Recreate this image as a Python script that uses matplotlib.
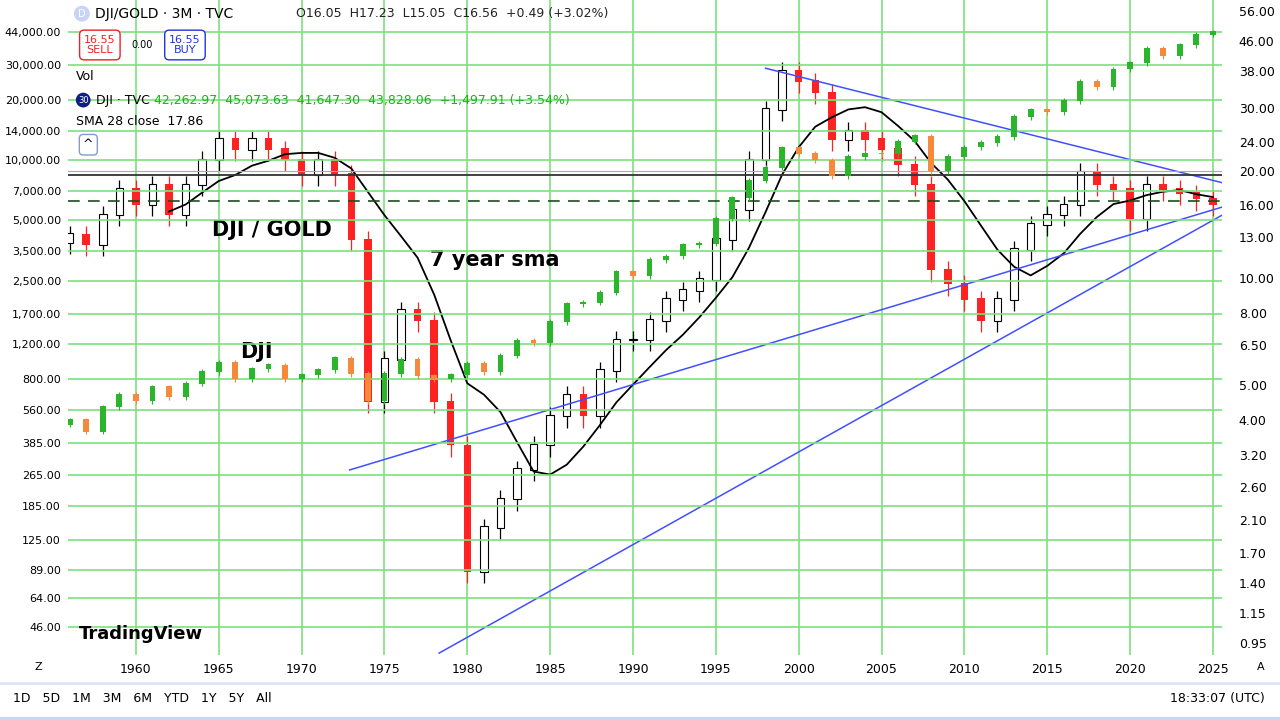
import numpy as np
import matplotlib
matplotlib.use('Agg')
import matplotlib.pyplot as plt
from matplotlib.ticker import FixedLocator, NullLocator

# yearly closes
years = np.arange(1956, 2026)
ratio_close = [13.2, 12.4, 15, 17.7, 16, 18.2, 15, 18.2, 21.4, 24.4, 22.9, 24.4, 22.9, 21.4,
               19.5, 21.4, 19.5, 12.8, 4.5, 5.9, 8.1, 7.6, 4.5, 3.4, 1.5, 2.0, 2.4, 2.9,
               3.4, 4.1, 4.7, 4.1, 5.5, 6.7, 6.7, 7.6, 8.7, 9.2, 9.9, 12.8, 15.5, 21.4,
               29.6, 38, 35.5, 33, 24.4, 25.8, 24.4, 22.9, 20.7, 18.2, 10.5, 9.6, 8.7, 7.6,
               8.7, 12, 14.1, 15, 16, 19.8, 18.2, 17.7, 14.6, 18.2, 17.7, 17.2, 16.6, 16.0]
dji_close = [500, 437, 580, 668, 620, 730, 650, 760, 870, 970, 800, 900, 940, 800, 840,
             890, 1020, 850, 620, 850, 1000, 830, 800, 840, 960, 870, 1050, 1250, 1210,
             1550, 1900, 1940, 2170, 2750, 2630, 3170, 3300, 3750, 3830, 5100, 6450, 7900,
             9200, 11500, 10800, 10000, 8300, 10400, 10800, 10700, 12400, 13200, 8800,
             10400, 11600, 12200, 13100, 16500, 17800, 17400, 19800, 24700, 23300, 28500,
             30600, 36300, 33100, 37700, 42500, 43800]

left_ticks = [44000, 30000, 20000, 14000, 10000, 7000, 5000, 3500, 2500, 1700, 1200, 800,
              560, 385, 265, 185, 125, 89, 64, 46]
right_ticks = [56, 46, 38, 30, 24, 20, 16, 13, 10, 8, 6.5, 5, 4, 3.2, 2.6, 2.1, 1.7, 1.4,
               1.15, 0.95]
year_ticks = list(range(1960, 2030, 5))

# trendlines (start year, value, end year, value) on ratio scale
trend_lines = [(1972.9, 2.9, 2025.55, 15.8), (1978.3, 0.89, 2025.55, 15.0),
               (1998.0, 38.7, 2025.55, 18.5)]
h_solid = 19.5
h_dashed = 16.4

green_grid = '#7ee07e'
fig = plt.figure(figsize=(12.8, 7.2), dpi=100)
ax = fig.add_axes([68 / 1280, 65 / 720, (1222 - 68) / 1280, 655 / 720])
ax2 = ax.twinx()

ax.set_yscale('log')
ax2.set_yscale('log')
ax.set_xlim(1955.9, 2025.55)
ax.set_ylim(0.879, 60.1)
ax2.set_ylim(33.3, 63500)

# ax (ratio) labels on the right, ax2 (DJI) labels on the left
ax.yaxis.tick_right()
ax2.yaxis.tick_left()
ax.yaxis.set_major_locator(FixedLocator(right_ticks))
ax.yaxis.set_minor_locator(NullLocator())
ax.set_yticklabels([f'{v:.2f}' for v in right_ticks])
ax2.yaxis.set_major_locator(FixedLocator(left_ticks))
ax2.yaxis.set_minor_locator(NullLocator())
ax2.set_yticklabels([f'{v:,.2f}' for v in left_ticks])
ax.set_xticks(year_ticks)
ax.set_xticklabels([str(y) for y in year_ticks])
for a in (ax, ax2):
    a.tick_params(length=0, labelsize=9, pad=6)
    for s in a.spines.values():
        s.set_visible(False)
ax.tick_params(axis='y', pad=12)
ax2.tick_params(axis='y', labelsize=8, pad=5)

for v in left_ticks:
    ax2.axhline(v, color=green_grid, lw=1.2, zorder=0)
for y in year_ticks:
    ax.axvline(y, color=green_grid, lw=1.2, zorder=0)

# DJI candles (green / orange)
dji_open = [dji_close[0] * 0.95] + dji_close[:-1]
for x, o, c in zip(years, dji_open, dji_close):
    col = '#2ab52a' if c >= o else '#f58a3c'
    ax2.bar(x, abs(c - o) + c * 0.01, bottom=min(o, c), width=0.35, color=col, zorder=2)
    ax2.vlines(x, min(o, c) * 0.97, max(o, c) * 1.03, color=col, lw=0.8, zorder=2)

# ratio candles (white/black up, red down)
r_open = [ratio_close[0] * 0.95] + ratio_close[:-1]
for x, o, c in zip(years, r_open, ratio_close):
    lo, hi = min(o, c), max(o, c)
    ax.vlines(x, lo * 0.93, hi * 1.06, color='black' if c >= o else '#f22', lw=0.9, zorder=3)
    if c >= o:
        ax.bar(x, hi - lo + c * 0.01, bottom=lo, width=0.45, color='white',
               edgecolor='black', lw=0.8, zorder=4)
    else:
        ax.bar(x, hi - lo + c * 0.01, bottom=lo, width=0.45, color='#f22', zorder=4)

# 7 year sma (trailing)
sma = np.convolve(ratio_close, np.ones(7) / 7, mode='valid')
ax.plot(years[6:], sma, color='black', lw=1.3, zorder=5)

for x0, y0, x1, y1 in trend_lines:
    ax.plot([x0, x1], [y0, y1], color='#4050ff', lw=1.1, zorder=6)
ax.axhline(h_solid, color='#333', lw=1.3, zorder=6)
ax.axhline(h_solid * 1.02, color='#aaa', lw=0.8, zorder=6)
ax.axhline(h_dashed, color='#1a4d1a', lw=1.2, ls=(0, (7, 5)), zorder=6)

fs = 15
ax.text(1964.6, 13.6, 'DJI / GOLD', fontsize=fs, weight='bold', va='center', zorder=7)
ax.text(1977.75, 11.2, '7 year sma', fontsize=fs, weight='bold', va='center', zorder=7)
ax.text(1966.3, 6.2, 'DJI', fontsize=fs, weight='bold', va='center', zorder=7)

# header legend
fig.text(0.064, 0.981, 'D', fontsize=7, color='white', va='center', ha='center',
         bbox=dict(boxstyle='circle,pad=0.3', fc='#c8d4f5', ec='none'))
fig.text(0.074, 0.981, 'DJI/GOLD · 3M · TVC', fontsize=10, va='center')
fig.text(0.231, 0.981, 'O16.05  H17.23  L15.05  C16.56  +0.49 (+3.02%)', fontsize=9,
         color='#222', va='center')
fig.text(0.078, 0.9375, '16.55\nSELL', fontsize=8, color='#e22', ha='center', va='center',
         linespacing=1.1, bbox=dict(boxstyle='round,pad=0.4', fc='white', ec='#e22'))
fig.text(0.111, 0.9375, '0.00', fontsize=7, ha='center', va='center')
fig.text(0.1445, 0.9375, '16.55\nBUY', fontsize=8, color='#2233dd', ha='center',
         va='center', linespacing=1.1,
         bbox=dict(boxstyle='round,pad=0.4', fc='white', ec='#2233dd'))
fig.text(0.059, 0.894, 'Vol', fontsize=9, va='center')
fig.text(0.065, 0.861, '30', fontsize=6, color='white', va='center', ha='center',
         bbox=dict(boxstyle='circle,pad=0.25', fc='#102080', ec='none'))
fig.text(0.075, 0.861, 'DJI · TVC', fontsize=9, va='center')
fig.text(0.12, 0.861, '42,262.97  45,073.63  41,647.30  43,828.06  +1,497.91 (+3.54%)',
         fontsize=9, color='#1bb31b', va='center')
fig.text(0.059, 0.831, 'SMA 28 close  17.86', fontsize=9, va='center')
fig.text(0.069, 0.799, '^', fontsize=9, ha='center', va='center',
         bbox=dict(boxstyle='round,pad=0.3', fc='white', ec='#8899cc'))

fig.text(0.062, 0.119, 'TradingView', fontsize=13, weight='bold', va='center')
fig.text(0.027, 0.074, 'Z', fontsize=8, va='center')
fig.text(0.982, 0.074, 'A', fontsize=8, va='center')

# bottom toolbar
fig.add_artist(plt.Line2D([0, 1], [0.052, 0.052], color='#dbe4f8', lw=2))
fig.add_artist(plt.Line2D([0, 1], [0.002, 0.002], color='#c8d6f5', lw=3))
fig.text(0.010, 0.030, '1D   5D   1M   3M   6M   YTD   1Y   5Y   All', fontsize=9, va='center')
fig.text(0.988, 0.030, '18:33:07 (UTC)', fontsize=9, va='center', ha='right')

fig.savefig('out.png', dpi=100)
